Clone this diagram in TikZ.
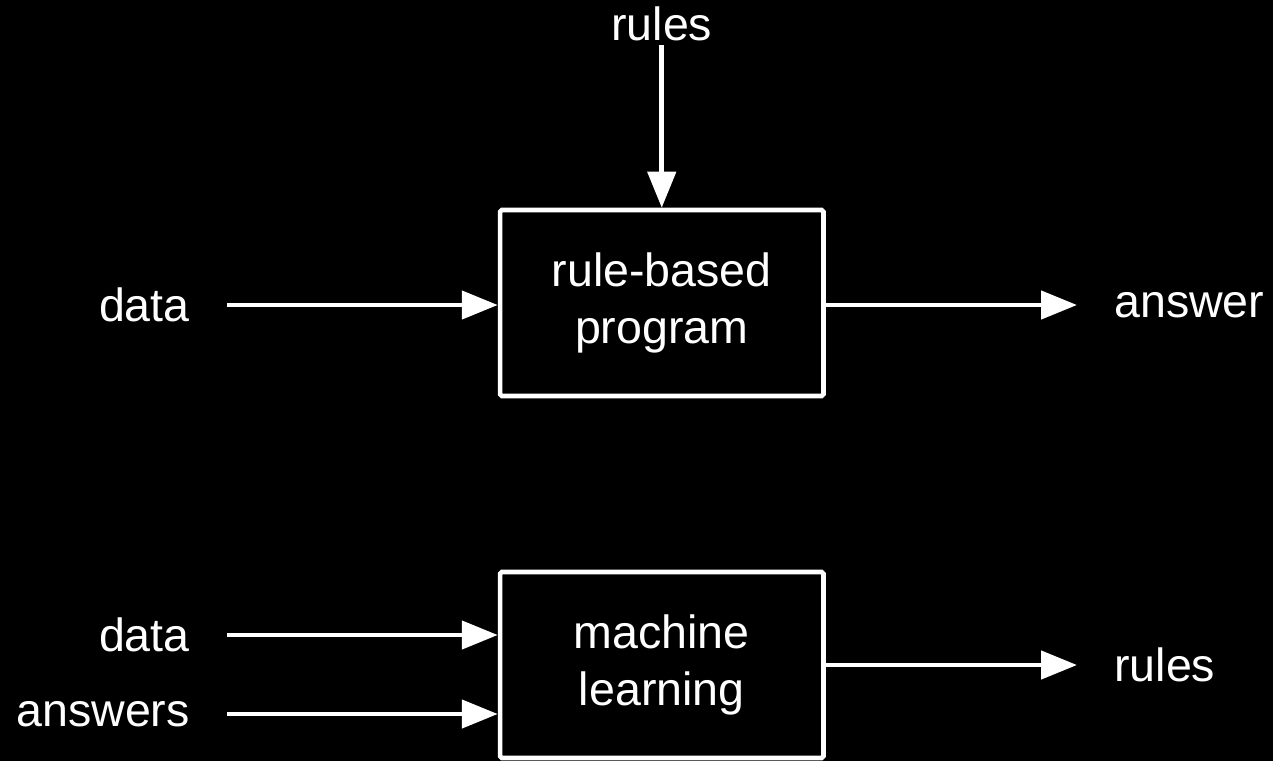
\documentclass[tikz,border=0pt]{standalone}
\usepackage{fontspec}
\setmainfont{Liberation Sans}
\usetikzlibrary{arrows.meta}

\begin{document}
\begin{tikzpicture}[x=0.02cm, y=-0.02cm, line width=2.6pt, white,
        >={Triangle[length=0.72cm, width=0.56cm]},
        lbl/.style={inner xsep=0.7cm, inner ysep=1pt, font=\fontsize{26.5}{32.5}\selectfont},
        box/.style={draw, rounded corners=1pt, minimum width=6.47cm, minimum height=3.72cm,
            align=center, font=\fontsize{26.5}{32.5}\selectfont}]
            \useasboundingbox (0,0) rectangle (1273,761);
            \fill[black] (0,0) rectangle (1273,761);
            % rule-based program
            \node[box] (3) at (661.75,303) {rule-based\\program};
            \node[lbl, anchor=south] (1) at (661.75,45) {rules};
            \node[lbl, anchor=east] (2) at (227,305) {data};
            \node[lbl, anchor=west] (4) at (1077,305) {answer};
            \draw[->] (1) to (3);
            \draw[->] (2.east) to (2.east -| 3.west);
            \draw[->] (3.east |- 4.west) to (4.west);
            % machine learning
            \node[box] (7) at (661.75,665) {machine\\learning};
            \node[lbl, anchor=east] (5) at (227,635) {data};
            \node[lbl, anchor=east] (6) at (227,714) {answers};
            \node[lbl, anchor=west] (8) at (1077,665) {rules};
            \draw[->] (5.east) to (5.east -| 7.west);
            \draw[->] (6.east) to (6.east -| 7.west);
            \draw[->] (7) to (8);
        \end{tikzpicture}
\end{document}
